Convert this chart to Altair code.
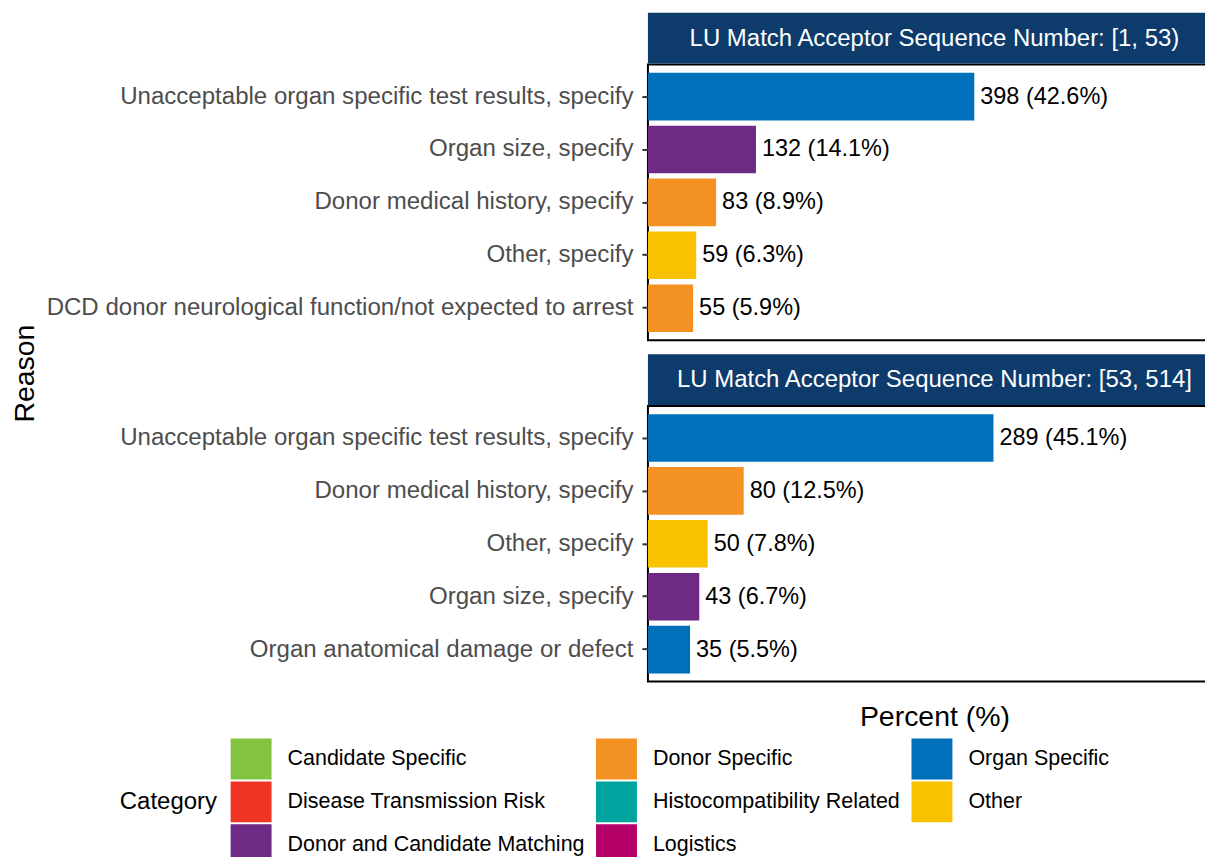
import altair as alt
import pandas as pd

# ---------------- data ----------------
panel_titles = [
    "LU Match Acceptor Sequence Number: [1, 53)",
    "LU Match Acceptor Sequence Number: [53, 514]",
]

reasons_1 = [
    "Unacceptable organ specific test results, specify",
    "Organ size, specify",
    "Donor medical history, specify",
    "Other, specify",
    "DCD donor neurological function/not expected to arrest",
]
counts_1 = [398, 132, 83, 59, 55]
pcts_1 = [42.6, 14.1, 8.9, 6.3, 5.9]
cats_1 = ["Organ Specific", "Donor and Candidate Matching", "Donor Specific", "Other", "Donor Specific"]

reasons_2 = [
    "Unacceptable organ specific test results, specify",
    "Donor medical history, specify",
    "Other, specify",
    "Organ size, specify",
    "Organ anatomical damage or defect",
]
counts_2 = [289, 80, 50, 43, 35]
pcts_2 = [45.1, 12.5, 7.8, 6.7, 5.5]
cats_2 = ["Organ Specific", "Donor Specific", "Other", "Donor and Candidate Matching", "Organ Specific"]

legend_categories = [
    "Candidate Specific", "Disease Transmission Risk", "Donor and Candidate Matching",
    "Donor Specific", "Histocompatibility Related", "Logistics",
    "Organ Specific", "Other",
]
legend_colors = [
    "#82C341", "#EE3524", "#6E2A84",
    "#F39222", "#00A39D", "#B5006A",
    "#0070BA", "#F8C200",
]

# ---------------- layout constants ----------------
FONT = "Liberation Sans"
NAVY = "#0D3B6B"
W = 574
H = 276
X_MAX = 74.8

color_scale = alt.Scale(domain=legend_categories, range=legend_colors)


def make_panel(title, reasons, counts, pcts, cats, bottom):
    df = pd.DataFrame({
        "Reason": reasons,
        "Count": counts,
        "Percent": pcts,
        "Category": cats,
        "label": [f"{c} ({p}%)" for c, p in zip(counts, pcts)],
    })
    if bottom:
        x_axis = alt.Axis(labels=False, ticks=False, domain=False, grid=False,
                          title="Percent (%)", titleFontSize=28.5, titleFontWeight="normal",
                          titleColor="black", titlePadding=21, titleX=287, titleAnchor="middle")
        y_title = "Reason"
    else:
        x_axis = None
        y_title = None
    y_axis = alt.Axis(labelFontSize=24.1, labelColor="#4D4D4D", labelLimit=1000,
                      tickSize=6, tickColor="#333333", tickWidth=2, labelPadding=9,
                      domain=False, grid=False, title=y_title,
                      titleFontSize=28.5, titleFontWeight="normal", titleColor="black",
                      titleX=-615, titleY=-33, titleBaseline="alphabetic", titleAlign="center")
    y_enc = alt.Y("Reason:N", sort=reasons, axis=y_axis,
                  scale=alt.Scale(paddingInner=0.1, paddingOuter=0.154))
    x_enc = alt.X("Percent:Q", axis=x_axis,
                  scale=alt.Scale(domain=[0, X_MAX], nice=False, zero=True))

    base = alt.Chart(df)
    bars = base.mark_bar().encode(
        y=y_enc, x=x_enc,
        color=alt.Color("Category:N", scale=color_scale,
                        legend=alt.Legend(
                            orient="none", legendX=-529, legendY=675,
                            columns=3, columnPadding=11, rowPadding=2,
                            title="Category", titleOrient="left", titleFontSize=24,
                            titleFontWeight="normal", titleColor="black", titlePadding=13,
                            titleAnchor="middle", titleBaseline="middle",
                            labelFontSize=21.5, labelColor="black", labelOffset=16,
                            labelLimit=1000,
                            symbolType="square", symbolSize=1681, symbolStrokeWidth=0,
                            symbolOpacity=1)),
    )
    text = base.mark_text(align="left", baseline="middle", dx=6, fontSize=23.5,
                          color="black").encode(y=y_enc, x=x_enc, text="label:N")

    sdf = pd.DataFrame({"title": [title]})
    strip = alt.Chart(sdf).mark_rect(color=NAVY).encode(
        x=alt.value(0), x2=alt.value(W), y=alt.value(-52), y2=alt.value(-1))
    strip_text = alt.Chart(sdf).mark_text(color="white", fontSize=24, align="center",
                                          baseline="middle").encode(
        x=alt.value(287), y=alt.value(-26), text="title:N")

    return alt.layer(strip, strip_text, bars, text).properties(width=W, height=H)


top = make_panel(panel_titles[0], reasons_1, counts_1, pcts_1, cats_1, bottom=False)
bot = make_panel(panel_titles[1], reasons_2, counts_2, pcts_2, cats_2, bottom=True)

chart = (
    alt.vconcat(top, bot, spacing=66, bounds="flush")
    .resolve_scale(color="shared")
    .properties(padding={"left": 2, "top": 3, "right": -17, "bottom": -9})
    .configure(font=FONT)
    .configure_view(stroke="black", strokeWidth=2)
)

chart.save("out.html", embed_options={"renderer": "svg", "actions": False})
